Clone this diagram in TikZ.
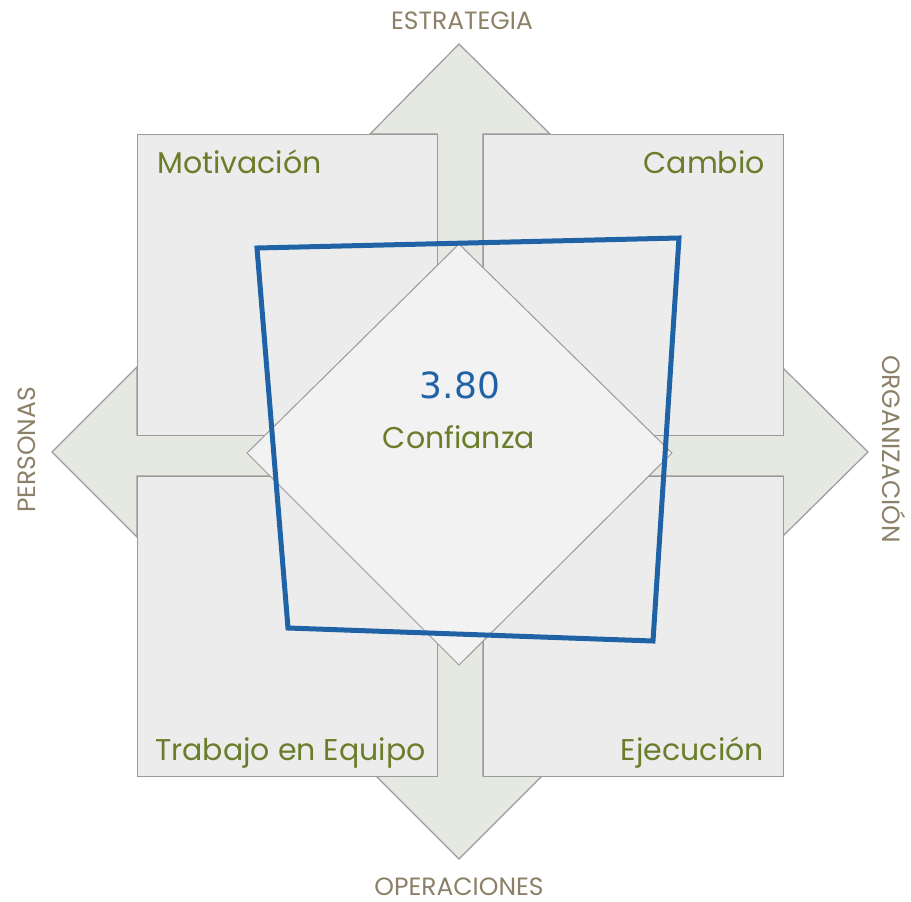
\documentclass[tikz,border=0pt]{standalone}
\usepackage{fontspec}
\setmainfont{Poppins}
\newfontfamily\dejavu{DejaVu Sans}
\definecolor{boxfill}{HTML}{ECECEC}
\definecolor{arrowfill}{HTML}{E6E8E2}
\definecolor{edgegray}{HTML}{9A9A9A}
\definecolor{diamondfill}{HTML}{F2F2F2}
\definecolor{bluepoly}{HTML}{1F63A6}
\definecolor{greentext}{HTML}{6B7D2A}
\definecolor{axistext}{HTML}{8C8068}
\tikzset{
  quadbox/.style={fill=boxfill,draw=edgegray,line width=1.2pt},
  arrowshape/.style={fill=arrowfill,draw=edgegray,line width=1.2pt},
  centerdiamond/.style={fill=diamondfill,draw=edgegray,line width=1pt},
  scorepoly/.style={draw=bluepoly,line width=5pt,line join=miter},
  quadlabel/.style={text=greentext,font=\fontsize{30}{32}\selectfont,inner sep=0pt},
  axislabel/.style={text=axistext,font=\fontsize{25}{27}\selectfont,inner sep=0pt},
}
\begin{document}
\begin{tikzpicture}[x=1pt,y=-1pt]
\useasboundingbox (0,0) rectangle (911,902);
% cross arrow
\path[arrowshape] (459,44) -- (550,134) -- (483,134) -- (483,435) -- (783,435) -- (783,368)
  -- (868,452) -- (783,536) -- (783,476) -- (483,476) -- (483,776) -- (542,776)
  -- (459,859) -- (376,776) -- (437,776) -- (437,476) -- (137,476) -- (137,537)
  -- (52,452) -- (137,367) -- (137,435) -- (437,435) -- (437,134) -- (370,134) -- cycle;
% quadrant boxes
\node[quadbox,minimum width=300pt,minimum height=301pt,anchor=north west] (tl) at (137,134) {};
\node[quadbox,minimum width=300pt,minimum height=301pt,anchor=north west] (tr) at (483,134) {};
\node[quadbox,minimum width=300pt,minimum height=300pt,anchor=north west] (bl) at (137,476) {};
\node[quadbox,minimum width=300pt,minimum height=300pt,anchor=north west] (br) at (483,476) {};
% center diamond
\path[centerdiamond] (459,244) -- (672,453) -- (459,665) -- (247,453) -- cycle;
% score polygon
\draw[scorepoly] (257,248) -- (679,238) -- (653,641) -- (288,628) -- cycle;
% texts
\node[quadlabel,anchor=base west] (mot) at (157,173) {Motivación};
\node[quadlabel,anchor=base east] (cam) at (765,173) {Cambio};
\node[quadlabel,anchor=base west] (tra) at (155,760) {Trabajo en Equipo};
\node[quadlabel,anchor=base east] (eje) at (764,760) {Ejecución};
\node[quadlabel,anchor=base] (con) at (459,448) {Confianza};
\node[text=bluepoly,font=\dejavu\fontsize{36}{38}\selectfont,inner sep=0pt,anchor=base] (score) at (460,398) {3.80};
\node[axislabel,anchor=base] (est) at (462,29) {ESTRATEGIA};
\node[axislabel,anchor=base] (ope) at (459,895) {OPERACIONES};
\node[axislabel,anchor=center,rotate=90] (per) at (27,450) {PERSONAS};
\node[axislabel,anchor=center,rotate=-90] (org) at (894,449) {ORGANIZACIÓN};
\end{tikzpicture}
\end{document}
